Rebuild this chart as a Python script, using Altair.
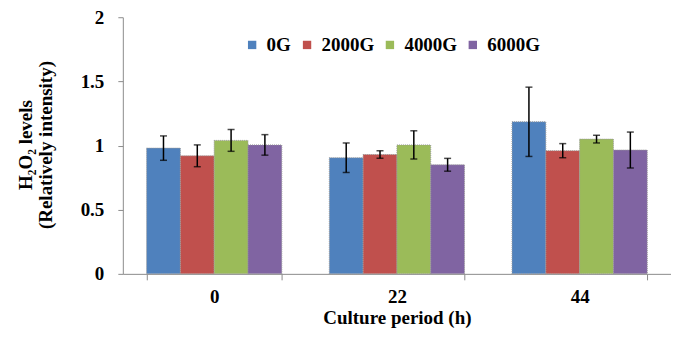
import altair as alt
import pandas as pd

periods = ["0", "22", "44"]
groups = ["0G", "2000G", "4000G", "6000G"]
colors = ["#4F81BD", "#C0504D", "#9BBB59", "#8064A2"]
values = {
    "0G":    [0.98, 0.905, 1.185],
    "2000G": [0.92, 0.93, 0.96],
    "4000G": [1.04, 1.005, 1.05],
    "6000G": [1.005, 0.85, 0.965],
}
errors = {
    "0G":    [0.095, 0.115, 0.27],
    "2000G": [0.085, 0.03, 0.055],
    "4000G": [0.085, 0.11, 0.03],
    "6000G": [0.08, 0.05, 0.14],
}
y_title = ["H₂O₂ levels", "(Relatively intensity)"]

rows = []
for g in groups:
    for i, p in enumerate(periods):
        rows.append({"period": p, "group": g, "value": values[g][i], "err": errors[g][i]})
df = pd.DataFrame(rows)

font = "Liberation Serif"

x = alt.X("period:N", sort=periods, title="Culture period (h)",
          scale=alt.Scale(paddingInner=0.26, paddingOuter=0.13),
          axis=alt.Axis(labelAngle=0, tickBand="extent", labelFontSize=19, titleFontSize=19,
                        labelPadding=8, titlePadding=2, tickSize=6))
xo = alt.XOffset("group:N", sort=groups, scale=alt.Scale(paddingInner=0, paddingOuter=0))

base = alt.Chart(df)

bars = base.mark_bar(stroke="#9a9a9a", strokeWidth=1, strokeDash=[1, 1]).encode(
    x=x, xOffset=xo,
    y=alt.Y("value:Q", scale=alt.Scale(domain=[0, 2]), title=None,
            axis=alt.Axis(values=[0, 0.5, 1, 1.5, 2], labelFontSize=19,
                          labelPadding=14, tickSize=5, grid=False, format="~g")),
    color=alt.Color("group:N", sort=groups,
                    scale=alt.Scale(domain=groups, range=colors),
                    legend=alt.Legend(title=None, orient="none", legendX=120, legendY=18,
                                      direction="horizontal", symbolType="square",
                                      symbolSize=70, labelFontSize=19, columnPadding=6,
                                      symbolStrokeWidth=0, labelOffset=5)),
)

err = base.transform_calculate(lo="datum.value - datum.err", hi="datum.value + datum.err")
rules = err.mark_rule(color="black", strokeWidth=1.5).encode(
    x=x, xOffset=xo, y="lo:Q", y2="hi:Q")
caps_hi = err.mark_tick(color="black", size=7, thickness=1.5).encode(
    x=x, xOffset=xo, y="hi:Q")
caps_lo = err.mark_tick(color="black", size=7, thickness=1.5).encode(
    x=x, xOffset=xo, y="lo:Q")

title1 = alt.Chart(pd.DataFrame({"t": [y_title[0]]})).mark_text(
    angle=270, font=font, fontWeight="bold", fontSize=19, color="black",
    align="center", baseline="middle").encode(
    text="t:N", x=alt.value(-97), y=alt.value(128))
title2 = alt.Chart(pd.DataFrame({"t": [y_title[1]]})).mark_text(
    angle=270, font=font, fontWeight="bold", fontSize=19, color="black",
    align="center", baseline="middle").encode(
    text="t:N", x=alt.value(-77), y=alt.value(128))

chart = alt.layer(bars, rules, caps_hi, caps_lo, title1, title2).properties(
    width=549, height=257,
    autosize=alt.AutoSizeParams(type="none"),
    padding={"left": 115, "top": 9, "right": 0, "bottom": 60},
).configure_view(stroke=None).configure_axis(
    domainColor="#8c8c8c", tickColor="#8c8c8c", labelFont=font, titleFont=font,
    labelFontWeight="bold", titleFontWeight="bold", labelColor="black", titleColor="black",
    grid=False,
).configure_legend(labelFont=font, labelFontWeight="bold", labelColor="black")

chart.save("out.html", embed_options={"renderer": "svg", "actions": False})
